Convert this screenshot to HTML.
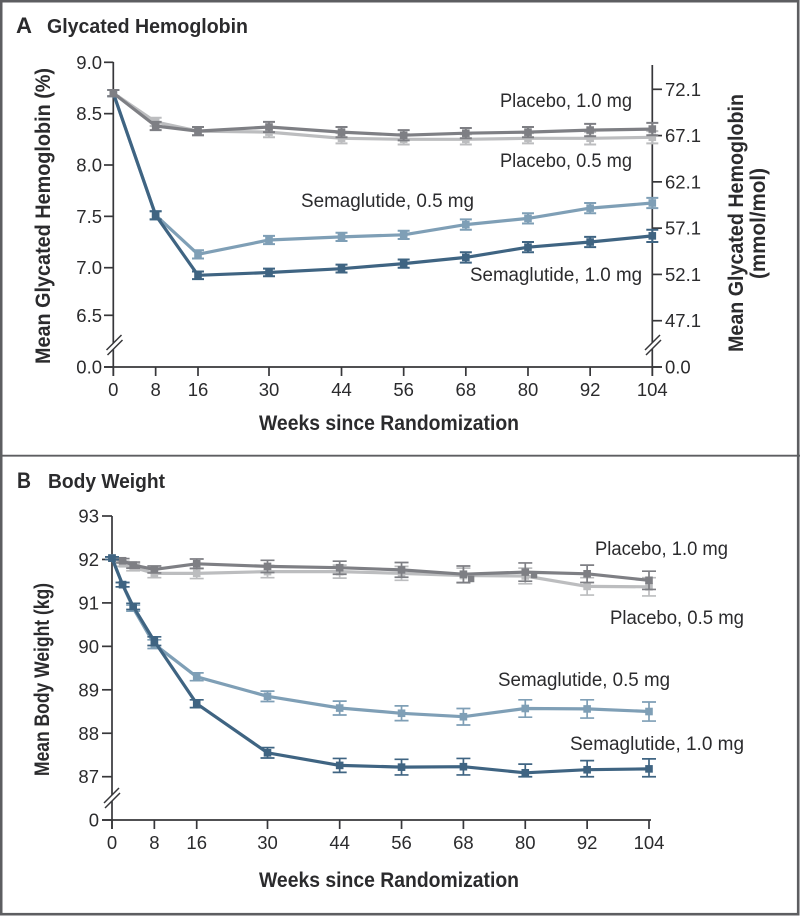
<!DOCTYPE html>
<html lang="en">
<head>
<meta charset="utf-8">
<title>Glycated Hemoglobin and Body Weight</title>
<style>
html,body{margin:0;padding:0;background:#fff;}
svg{display:block;}
text{font-family:"Liberation Sans",sans-serif;fill:#2b2b2d;}
.tick{font-size:18.5px;}
.series{font-size:19px;}
.title{font-size:20px;font-weight:bold;}
.letter{font-size:22px;font-weight:bold;}
.axis-title{font-size:21px;font-weight:bold;}
</style>
</head>
<body>
<svg id="chart" width="800" height="916" viewBox="0 0 800 916" xmlns="http://www.w3.org/2000/svg">
  <rect x="0" y="0" width="800" height="916" fill="#fff"/>
  <rect x="1.2" y="1.2" width="797" height="913" fill="none" stroke="#5d5e61" stroke-width="2.6"/>
  <line x1="0" x2="800" y1="455.7" y2="455.7" stroke="#5d5e61" stroke-width="1.8"/>

  <text class="letter" x="16" y="33" textLength="16" lengthAdjust="spacingAndGlyphs">A</text>
  <text class="title" x="47" y="33" textLength="201" lengthAdjust="spacingAndGlyphs">Glycated Hemoglobin</text>
  <text class="letter" x="17" y="488" textLength="14" lengthAdjust="spacingAndGlyphs">B</text>
  <text class="title" x="48" y="488" textLength="117" lengthAdjust="spacingAndGlyphs">Body Weight</text>

  <text class="axis-title" transform="translate(50,364) rotate(-90)" textLength="296" lengthAdjust="spacingAndGlyphs">Mean Glycated Hemoglobin (%)</text>
  <text class="axis-title" transform="translate(743,352) rotate(-90)" textLength="258" lengthAdjust="spacingAndGlyphs">Mean Glycated Hemoglobin</text>
  <text class="axis-title" transform="translate(765,279) rotate(-90)" textLength="111" lengthAdjust="spacingAndGlyphs">(mmol/mol)</text>
  <text class="axis-title" x="259" y="430" textLength="260" lengthAdjust="spacingAndGlyphs">Weeks since Randomization</text>
  <text class="axis-title" transform="translate(49,776) rotate(-90)" textLength="193" lengthAdjust="spacingAndGlyphs">Mean Body Weight (kg)</text>
  <text class="axis-title" x="259" y="887" textLength="260" lengthAdjust="spacingAndGlyphs">Weeks since Randomization</text>

  <text class="series" x="500" y="107" textLength="132" lengthAdjust="spacingAndGlyphs">Placebo, 1.0 mg</text>
  <text class="series" x="500" y="167" textLength="132" lengthAdjust="spacingAndGlyphs">Placebo, 0.5 mg</text>
  <text class="series" x="301" y="207" textLength="173" lengthAdjust="spacingAndGlyphs">Semaglutide, 0.5 mg</text>
  <text class="series" x="470" y="281" textLength="172" lengthAdjust="spacingAndGlyphs">Semaglutide, 1.0 mg</text>
  <text class="series" x="595" y="555" textLength="133" lengthAdjust="spacingAndGlyphs">Placebo, 1.0 mg</text>
  <text class="series" x="610" y="624" textLength="134" lengthAdjust="spacingAndGlyphs">Placebo, 0.5 mg</text>
  <text class="series" x="498" y="686" textLength="172" lengthAdjust="spacingAndGlyphs">Semaglutide, 0.5 mg</text>
  <text class="series" x="570" y="750" textLength="174" lengthAdjust="spacingAndGlyphs">Semaglutide, 1.0 mg</text>
</svg>
<script>
// Tick labels
const xTicks = [0, 8, 16, 30, 44, 56, 68, 80, 92, 104];
const aLeftTicks = ['0.0', '6.5', '7.0', '7.5', '8.0', '8.5', '9.0'];
const aRightTicks = ['0.0', '47.1', '52.1', '57.1', '62.1', '67.1', '72.1'];
const bLeftTicks = ['0', '87', '88', '89', '90', '91', '92', '93'];

// Panel A: glycated hemoglobin
const aWeeks = [0, 8, 16, 30, 44, 56, 68, 80, 92, 104];
const aSema05 = [8.70, 7.51, 7.13, 7.27, 7.30, 7.32, 7.42, 7.48, 7.58, 7.63];
const aSema05Err = [0.03, 0.04, 0.04, 0.04, 0.04, 0.04, 0.05, 0.05, 0.05, 0.05];
const aSema10 = [8.70, 7.51, 6.92, 6.95, 6.99, 7.04, 7.10, 7.20, 7.25, 7.31];
const aSema10Err = [0.03, 0.04, 0.04, 0.04, 0.04, 0.04, 0.05, 0.05, 0.05, 0.06];
const aPlacebo05 = [8.70, 8.42, 8.33, 8.32, 8.26, 8.25, 8.25, 8.26, 8.26, 8.27];
const aPlacebo05Err = [0.03, 0.04, 0.04, 0.05, 0.05, 0.05, 0.05, 0.05, 0.06, 0.06];
const aPlacebo10 = [8.70, 8.38, 8.33, 8.37, 8.32, 8.29, 8.31, 8.32, 8.34, 8.35];
const aPlacebo10Err = [0.03, 0.04, 0.04, 0.05, 0.05, 0.05, 0.05, 0.05, 0.06, 0.06];

// Panel B: body weight
const bWeeks = [0, 2, 4, 8, 16, 30, 44, 56, 68, 80, 92, 104];
const bSema05 = [92.03, 91.42, 90.88, 90.05, 89.30, 88.85, 88.58, 88.46, 88.38, 88.57, 88.56, 88.50];
const bSema05Err = [0.03, 0.05, 0.07, 0.10, 0.09, 0.12, 0.16, 0.17, 0.19, 0.20, 0.21, 0.22];
const bSema10 = [92.03, 91.42, 90.92, 90.12, 88.68, 87.55, 87.26, 87.22, 87.23, 87.09, 87.16, 87.18];
const bSema10Err = [0.03, 0.05, 0.07, 0.10, 0.09, 0.12, 0.16, 0.18, 0.19, 0.20, 0.21, 0.23];
const bPlacebo05 = [92.03, 91.90, 91.82, 91.68, 91.68, 91.72, 91.72, 91.68, 91.63, 91.62, 91.38, 91.37];
const bPlacebo05Err = [0.03, 0.06, 0.08, 0.10, 0.12, 0.14, 0.15, 0.16, 0.17, 0.18, 0.20, 0.21];
const bPlacebo10 = [92.03, 91.97, 91.87, 91.77, 91.90, 91.84, 91.81, 91.76, 91.66, 91.71, 91.67, 91.52];
const bPlacebo10Err = [0.03, 0.05, 0.07, 0.08, 0.11, 0.14, 0.15, 0.17, 0.19, 0.21, 0.20, 0.21];
const bStrayWeeks = [69.5, 81.7];
const bStrayValues = [91.55, 91.64];

const svg = document.getElementById('chart');
const NS = 'http://www.w3.org/2000/svg';
const COL_S05 = '#7f9fb6';
const COL_S10 = '#3f6482';
const COL_P05 = '#bcbdbf';
const COL_P10 = '#7e7f84';
const INK = '#37373a';

function piecewise(domain, range) {
  return function (v) {
    let i = 0;
    while (i < domain.length - 2 && v > domain[i + 1]) i++;
    const t = (v - domain[i]) / (domain[i + 1] - domain[i]);
    return range[i] + t * (range[i + 1] - range[i]);
  };
}
function make(tag, attrs, parent) {
  const el = document.createElementNS(NS, tag);
  for (const k in attrs) el.setAttribute(k, attrs[k]);
  (parent || svg).appendChild(el);
  return el;
}
function axisLine(x1, y1, x2, y2, name, width) {
  const el = make('line', { x1: x1, y1: y1, x2: x2, y2: y2, stroke: INK, 'stroke-width': width || 1.7 });
  
  
  return el;
}
function tickText(x, y, str, anchor, name) {
  const el = make('text', { x: x, y: y, 'text-anchor': anchor, class: 'tick' });
  el.textContent = str;
  
  
  return el;
}
function breakMark(x, y, name) {
  const g = make('g', {});
  
  
  make('polygon', { points: (x-7)+','+(y+7)+' '+(x+8)+','+(y-8)+' '+(x+9)+','+(y-3)+' '+(x-6)+','+(y+12), fill: '#fff' }, g);
  make('line', { x1: x - 7, y1: y + 7, x2: x + 8, y2: y - 8, stroke: INK, 'stroke-width': 1.5 }, g);
  make('line', { x1: x - 6, y1: y + 12, x2: x + 9, y2: y - 3, stroke: INK, 'stroke-width': 1.5 }, g);
}
function drawSeries(weeks, values, errs, color, xs, ys, capHalf, errWidth, name) {
  const g = make('g', {});
  
  
  const pts = weeks.map(function (w, i) { return xs(w).toFixed(1) + ',' + ys(values[i]).toFixed(1); }).join(' ');
  const line = make('polyline', { points: pts, fill: 'none', stroke: color, 'stroke-width': 3.2, 'stroke-linejoin': 'round' }, g);
  
  
  weeks.forEach(function (w, i) {
    const x = xs(w), y = ys(values[i]);
    const hi = ys(values[i] + errs[i]), lo = ys(values[i] - errs[i]);
    const eb = make('path', {
      d: 'M' + (x - capHalf) + ' ' + hi + 'H' + (x + capHalf) + 'M' + (x - capHalf) + ' ' + lo + 'H' + (x + capHalf) + 'M' + x + ' ' + hi + 'V' + lo,
      fill: 'none', stroke: color, 'stroke-width': errWidth
    }, g);
    
    
    const m = make('rect', { x: x - 3.8, y: y - 3.8, width: 7.6, height: 7.6, fill: color }, g);
    
    
  });
}

/* Panel A scales */
const xA = piecewise([0, 16, 30, 104], [113.3, 198, 269, 652.3]);
const yA = piecewise([0, 6.5, 7, 9], [367, 315.3, 267.7, 62.3]);
const yAR = piecewise([0, 47.1, 72.1], [367, 320.7, 89.3]);

axisLine(113.3, 62, 113.3, 376, 'panel-a-left-axis');
axisLine(652.3, 65, 652.3, 376, 'panel-a-right-axis');
axisLine(104, 367, 662, 367, 'panel-a-x-axis');
aLeftTicks.forEach(function (t) {
  const v = parseFloat(t);
  axisLine(104, yA(v), 113.3, yA(v), 'panel-a-left-tick');
  tickText(102, yA(v) + 6.5, t, 'end', 'panel-a-left-tick-label');
});
aRightTicks.forEach(function (t) {
  const v = parseFloat(t);
  axisLine(652.3, yAR(v), 662, yAR(v), 'panel-a-right-tick');
  tickText(665, yAR(v) + 6.5, t, 'start', 'panel-a-right-tick-label');
});
xTicks.forEach(function (t) {
  axisLine(xA(t), 367, xA(t), 376, 'panel-a-x-tick');
  tickText(xA(t), 396, String(t), 'middle', 'panel-a-x-tick-label');
});
breakMark(113.5, 343, 'panel-a-left-axis-break');
breakMark(652, 343, 'panel-a-right-axis-break');

drawSeries(aWeeks, aSema05, aSema05Err, COL_S05, xA, yA, 6, 2, 'a-semaglutide-0-5');
drawSeries(aWeeks, aSema10, aSema10Err, COL_S10, xA, yA, 6, 2, 'a-semaglutide-1-0');
drawSeries(aWeeks, aPlacebo05, aPlacebo05Err, COL_P05, xA, yA, 6, 2, 'a-placebo-0-5');
drawSeries(aWeeks, aPlacebo10, aPlacebo10Err, COL_P10, xA, yA, 6, 2, 'a-placebo-1-0');

/* Panel B scales */
const xB = piecewise([0, 16, 30, 104], [112, 196.7, 267.5, 649]);
const yB = piecewise([0, 87, 93], [820, 776.7, 516]);

axisLine(112, 516, 112, 829, 'panel-b-left-axis');
axisLine(102, 820, 651, 820, 'panel-b-x-axis');
bLeftTicks.forEach(function (t) {
  const v = parseFloat(t);
  axisLine(102, yB(v), 112, yB(v), 'panel-b-left-tick');
  tickText(99, yB(v) + 6.5, t, 'end', 'panel-b-left-tick-label');
});
xTicks.forEach(function (t) {
  axisLine(xB(t), 820, xB(t), 829, 'panel-b-x-tick');
  tickText(xB(t), 849, String(t), 'middle', 'panel-b-x-tick-label');
});
breakMark(111, 796, 'panel-b-left-axis-break');

drawSeries(bWeeks, bPlacebo05, bPlacebo05Err, COL_P05, xB, yB, 7, 1.7, 'b-placebo-0-5');
drawSeries(bWeeks, bPlacebo10, bPlacebo10Err, COL_P10, xB, yB, 7, 1.7, 'b-placebo-1-0');
drawSeries(bWeeks, bSema05, bSema05Err, COL_S05, xB, yB, 7, 1.7, 'b-semaglutide-0-5');
drawSeries(bWeeks, bSema10, bSema10Err, COL_S10, xB, yB, 7, 1.7, 'b-semaglutide-1-0');
bStrayWeeks.forEach(function (w, i) {
  const m = make('rect', { x: xB(w) - 3.2, y: yB(bStrayValues[i]) - 3.2, width: 6.4, height: 6.4, fill: COL_P10 });
  
  
});
</script>
</body>
</html>
